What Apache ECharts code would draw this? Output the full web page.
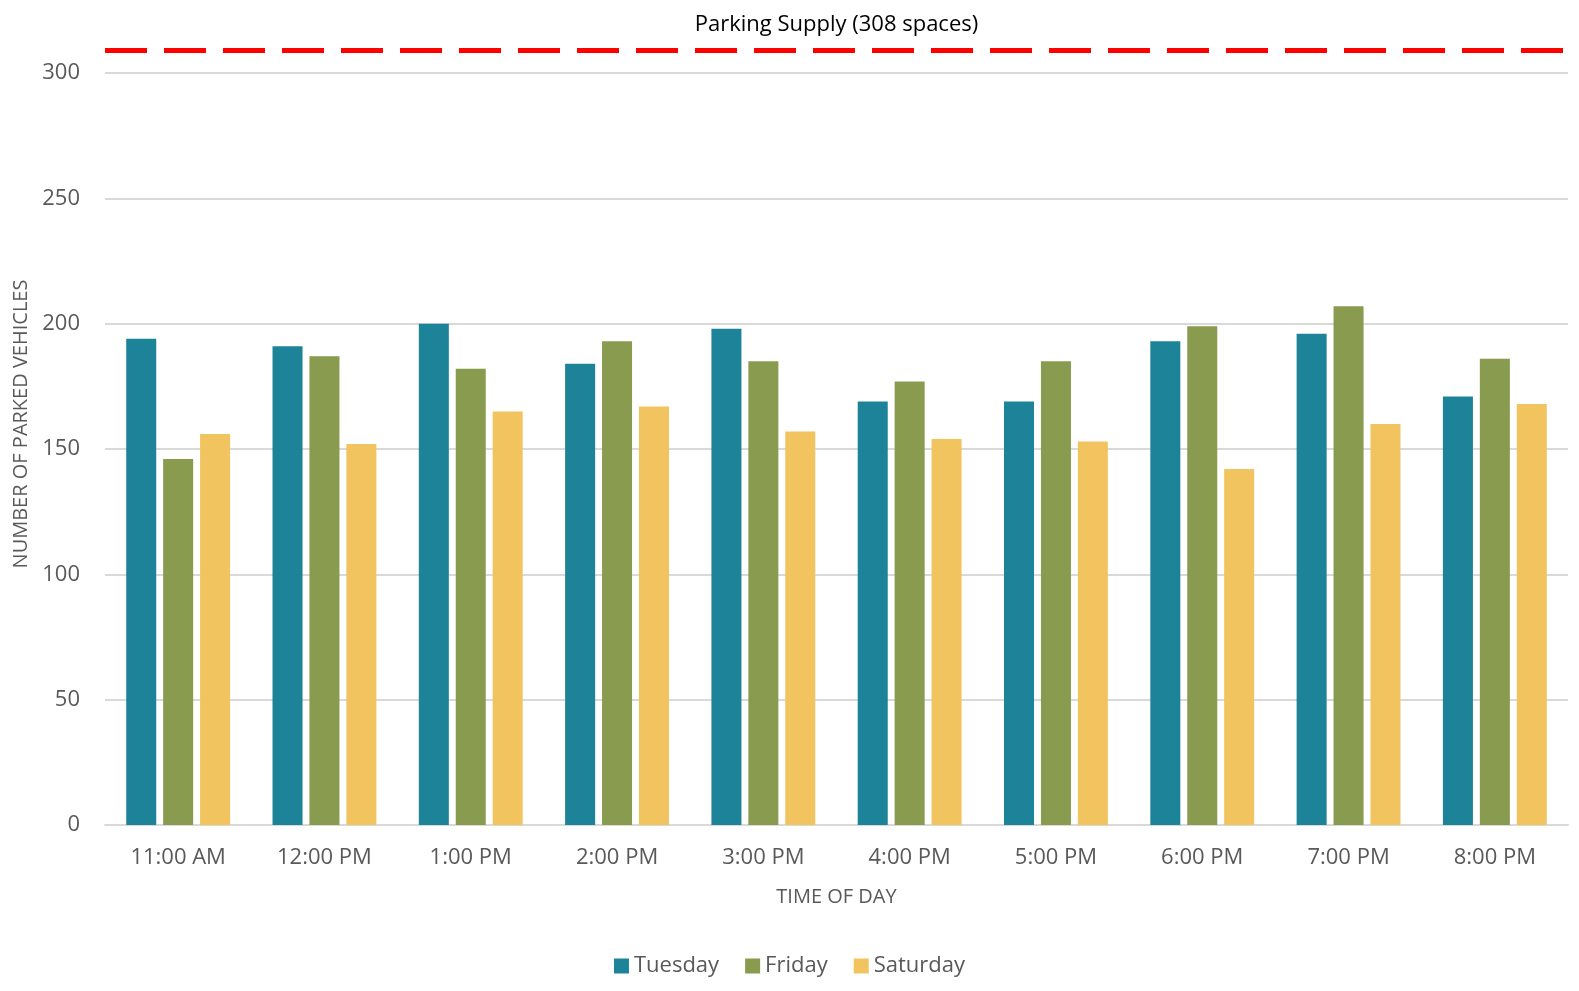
<!DOCTYPE html>
<html>
<head>
<meta charset="utf-8">
<script src="https://cdn.jsdelivr.net/npm/echarts@6/dist/echarts.min.js"></script>
<style>
html,body{margin:0;padding:0;background:#fff;overflow:hidden;}
#chart{width:100vw;height:100vh;}
</style>
</head>
<body>
<div id="chart"></div>
<script>
const categories = ['11:00 AM','12:00 PM','1:00 PM','2:00 PM','3:00 PM','4:00 PM','5:00 PM','6:00 PM','7:00 PM','8:00 PM'];
const tuesday  = [194, 191, 200, 184, 198, 169, 169, 193, 196, 171];
const friday   = [146, 187, 182, 193, 185, 177, 185, 199, 207, 186];
const saturday = [156, 152, 165, 167, 157, 154, 153, 142, 160, 168];
const parkingSupply = 309;
const supplyLabel = 'Parking Supply (308 spaces)';

const FONT = '"Open Sans", "Noto Sans", sans-serif';
const chart = echarts.init(document.getElementById('chart'));
chart.setOption({
  animation: false,
  textStyle: { fontFamily: FONT },
  grid: { left: 105, right: 11, top: 23, bottom: 166, containLabel: false },
  legend: {
    bottom: 9, left: 'center',
    itemWidth: 15, itemHeight: 15, itemGap: 26,
    icon: 'rect',
    textStyle: { fontSize: 22, color: '#595959', fontFamily: FONT },
    data: ['Tuesday','Friday','Saturday']
  },
  xAxis: {
    type: 'category',
    data: categories,
    axisLine: { lineStyle: { color: '#d9d9d9', width: 2 } },
    axisTick: { show: false },
    axisLabel: { fontSize: 22, color: '#595959', margin: 22, fontFamily: FONT },
    name: 'TIME OF DAY',
    nameLocation: 'middle',
    nameGap: 62,
    nameTextStyle: { fontSize: 20, color: '#595959', fontFamily: FONT }
  },
  yAxis: {
    type: 'value',
    min: 0, max: 320, interval: 50,
    axisLine: { show: false },
    axisTick: { show: false },
    axisLabel: { fontSize: 22, color: '#595959', margin: 25, showMaxLabel: false, fontFamily: FONT },
    splitLine: { show: true, showMaxLine: false, lineStyle: { color: '#d9d9d9', width: 2 } },
    name: 'NUMBER OF PARKED VEHICLES',
    nameLocation: 'middle',
    nameGap: 73,
    nameTextStyle: { fontSize: 20, color: '#595959', fontFamily: FONT }
  },
  series: [
    {
      name: 'Tuesday', type: 'bar', data: tuesday,
      barGap: '23%', barCategoryGap: '29%',
      itemStyle: { color: '#1d8399' },
      markLine: {
        silent: true, symbol: 'none',
        lineStyle: { color: '#ff0000', width: 5, type: [42, 17] },
        label: {
          show: true, position: 'insideMiddleTop', distance: 15,
          formatter: supplyLabel, fontSize: 22, color: '#000000', fontFamily: FONT
        },
        data: [{ yAxis: parkingSupply }]
      }
    },
    { name: 'Friday', type: 'bar', data: friday, barGap: '23%', barCategoryGap: '29%', itemStyle: { color: '#889b4f' } },
    { name: 'Saturday', type: 'bar', data: saturday, barGap: '23%', barCategoryGap: '29%', itemStyle: { color: '#f2c45f' } }
  ]
});
</script>
</body>
</html>
